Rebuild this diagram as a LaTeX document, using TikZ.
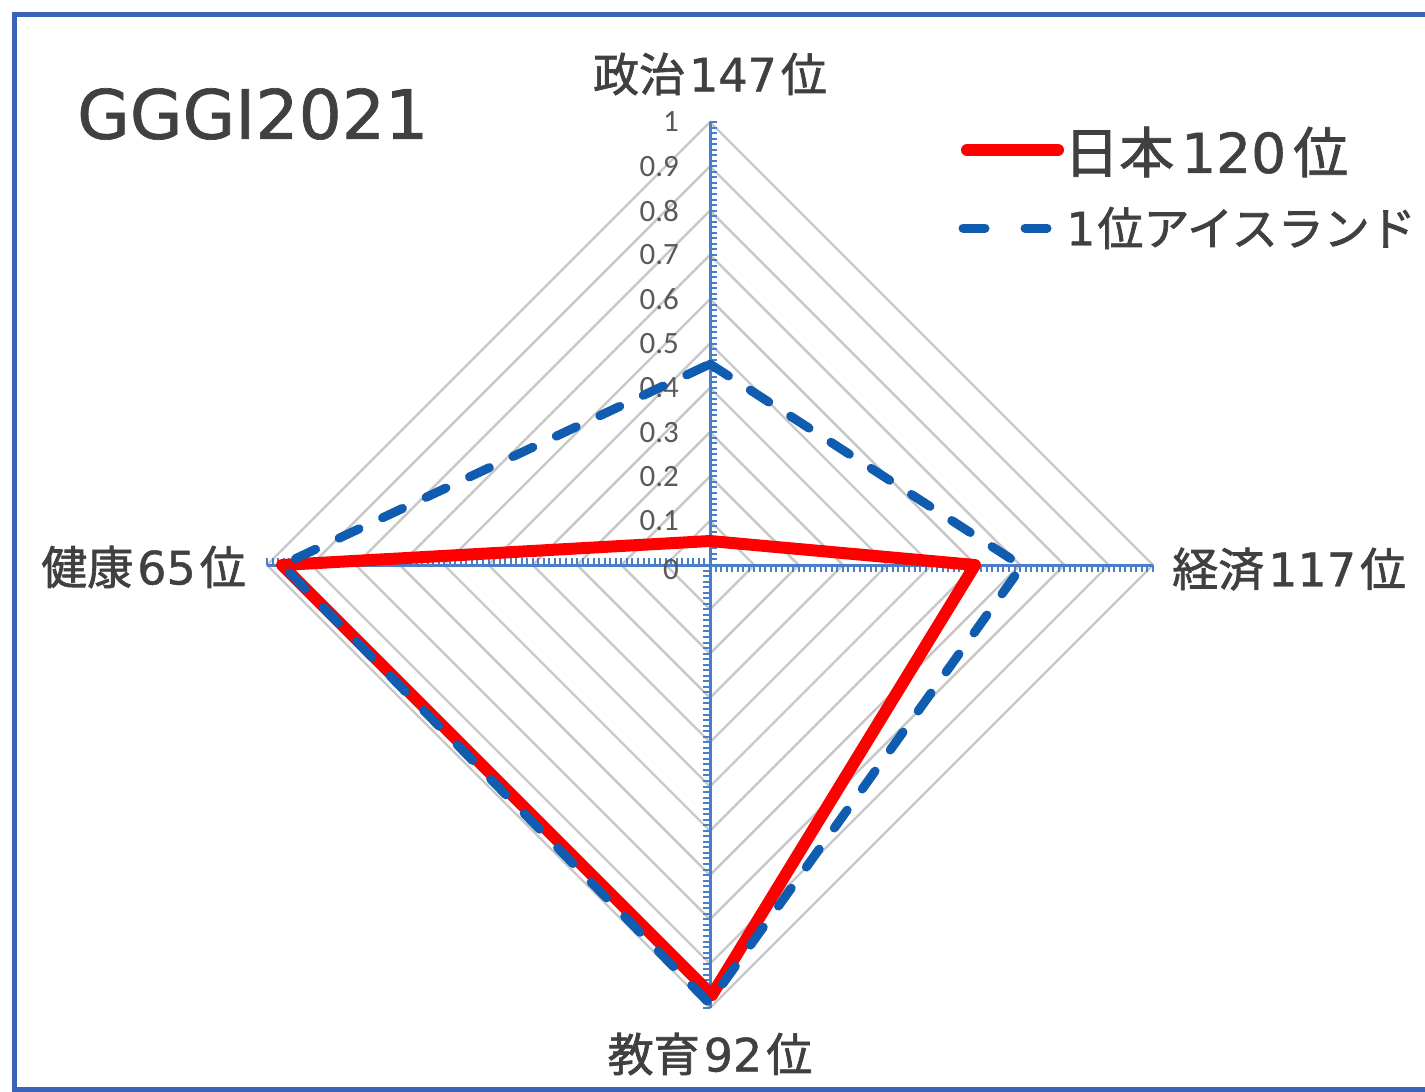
\documentclass[tikz,border=0pt]{standalone}
\usepackage{fontspec}
\newfontfamily\jpfont[FakeBold=1.5]{Noto Sans CJK JP}
\newfontfamily\latfont[FakeBold=1]{DejaVu Sans}
\newfontfamily\tickfont{Carlito}
\newcommand\dg[1]{\kern4pt{\latfont #1}\kern4pt}
\newcommand\dgw[1]{\kern7pt{\latfont #1}\kern7pt}
\definecolor{framec}{RGB}{58,100,185}
\definecolor{axisc}{RGB}{74,126,200}
\definecolor{gridc}{RGB}{200,200,200}
\definecolor{txtc}{RGB}{64,64,64}
\definecolor{tickc}{RGB}{89,89,89}
\definecolor{jpred}{RGB}{255,0,0}
\definecolor{iceblue}{RGB}{16,92,176}
\tikzset{
  gridline/.style={draw=gridc, line width=2.4pt},
  axisline/.style={draw=axisc, line width=3pt},
  tickline/.style={draw=axisc, line width=2pt},
  ticklabel/.style={anchor=east, text=tickc, font=\tickfont\fontsize{31}{32}\selectfont, inner sep=0pt},
  catlabel/.style={text=txtc, font=\jpfont\fontsize{46}{50}\selectfont, inner sep=0pt},
  japanline/.style={draw=jpred, line width=12pt, line join=round, line cap=round},
  iceline/.style={draw=iceblue, line width=9pt, line cap=round, line join=round, dash pattern=on 22pt off 26pt},
}
\begin{document}
\begin{tikzpicture}[x=1pt,y=-1pt]
\useasboundingbox (0,0) rectangle (1425,1092);
% frame
\draw[draw=framec, line width=5pt] (1430,14) -- (14,14) -- (14,1089) -- (1430,1089);
% center
\coordinate (C) at (710,565);
% grid diamonds
\foreach \k in {1,...,10}{
  \pgfmathsetmacro{\r}{44.3*\k}
  \draw[gridline] (710,565-\r) -- (710+\r,565) -- (710,565+\r) -- (710-\r,565) -- cycle;
}
% axes
\coordinate (T) at (710,122);
\coordinate (Rt) at (1153,565);
\coordinate (B) at (710,1008);
\coordinate (L) at (267,565);
\draw[axisline] (C) -- (T);
\draw[axisline] (C) -- (Rt);
\draw[axisline] (C) -- (B);
\draw[axisline] (C) -- (L);
% ticks
\foreach \i in {1,...,80}{
  \pgfmathsetmacro{\d}{5.5375*\i}
  \draw[tickline] (710,565-\d) -- ++(7,0);
  \draw[tickline] (710+\d,565) -- ++(0,7);
  \draw[tickline] (710,565+\d) -- ++(-7,0);
  \draw[tickline] (710-\d,565) -- ++(0,-7);
}
% tick labels
\node[ticklabel] (t0) at (679,570) {0};
\foreach \k/\lab in {1/0.1,2/0.2,3/0.3,4/0.4,5/0.5,6/0.6,7/0.7,8/0.8,9/0.9,10/1}{
  \node[ticklabel] (t\k) at (679,565-44.3*\k) {\lab};
}
% data points
\coordinate (jT) at (710,541);
\coordinate (jR) at (975,565);
\coordinate (jB) at (712,995);
\coordinate (jL) at (282,565);
\coordinate (iT) at (710,364);
\coordinate (iR) at (1022,566);
\coordinate (iB) at (709,1003);
\coordinate (iL) at (282,565);
\draw[japanline] (jT) -- (jR) -- (jB) -- (jL) -- cycle;
\draw[iceline] (iT) -- (iR) -- (iB) -- (iL) -- cycle;
% category labels
\node[catlabel] (pol) at (710,74) {政治\dg{147}位};
\node[catlabel, anchor=west] (eco) at (1172,569) {経済\dg{117}位};
\node[catlabel] (edu) at (710,1054) {教育\dg{92}位};
\node[catlabel, anchor=east] (hea) at (246,567) {健康\dg{65}位};
% title
\node[text=txtc, font=\latfont\fontsize{68}{72}\selectfont, anchor=west, inner sep=0pt] (title) at (77,114) {GGGI2021};
% legend
\coordinate (lr1) at (967,150);
\coordinate (lr2) at (1058,150);
\draw[japanline] (lr1) -- (lr2);
\node[text=txtc, font=\jpfont\fontsize{55}{59}\selectfont, anchor=west, inner sep=0pt] (lgj) at (1064,152) {日本\dgw{120}位};
\coordinate (lb1) at (963,228);
\coordinate (lb2) at (1052,228);
\draw[draw=iceblue, line width=9pt, line cap=round, dash pattern=on 22pt off 40pt] (lb1) -- (lb2);
\node[text=txtc, font=\jpfont\fontsize{46}{50}\selectfont, anchor=west, inner sep=0pt] (lgi) at (1066,228) {{\latfont 1}\kern2pt 位アイスランド};
\end{tikzpicture}
\end{document}
